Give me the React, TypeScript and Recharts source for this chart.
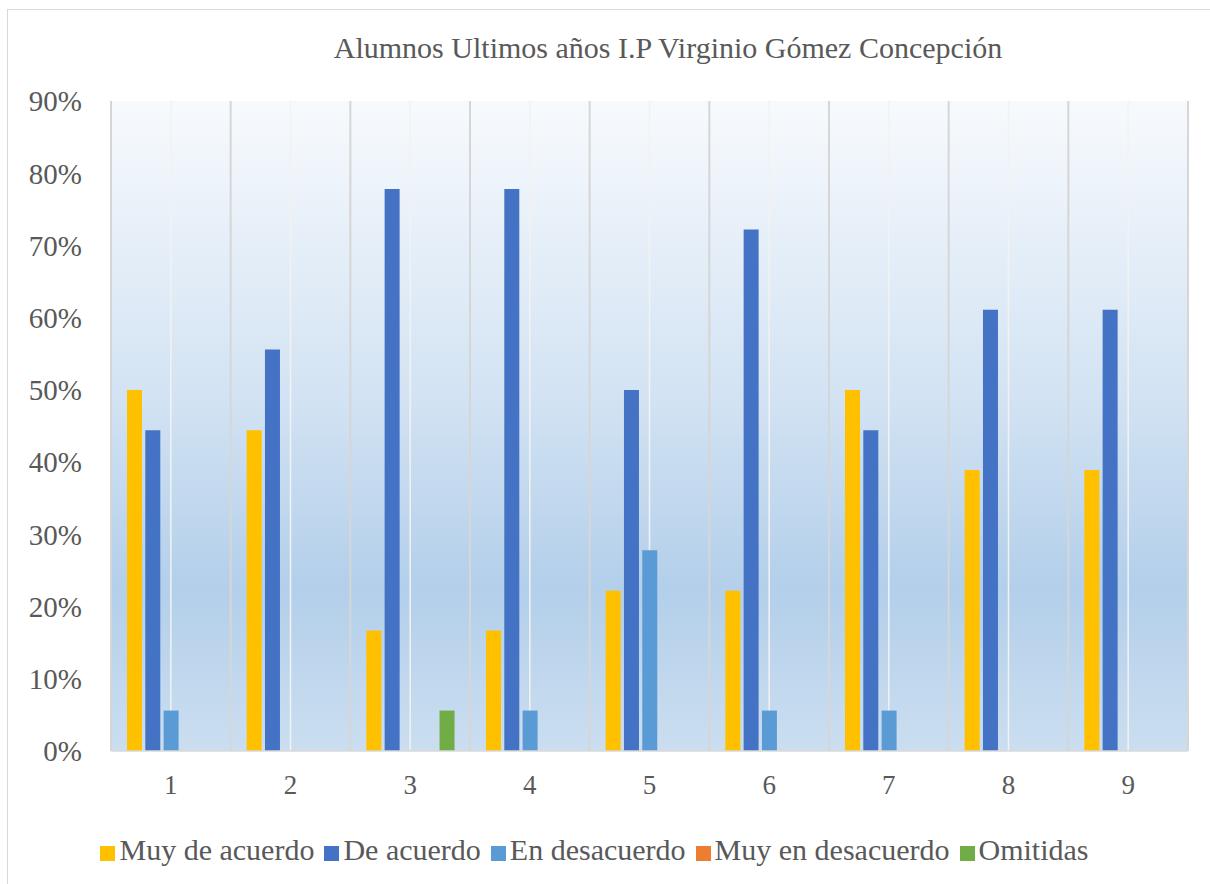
import { BarChart, Bar, XAxis, YAxis, CartesianGrid, Legend } from "recharts"

const categories = ["1", "2", "3", "4", "5", "6", "7", "8", "9"]
const muyDeAcuerdo = [50, 44.4, 16.7, 16.7, 22.2, 22.2, 50, 38.9, 38.9]
const deAcuerdo = [44.4, 55.6, 77.8, 77.8, 50, 72.2, 44.4, 61.1, 61.1]
const enDesacuerdo = [5.6, 0, 0, 5.6, 27.8, 5.6, 5.6, 0, 0]
const muyEnDesacuerdo = [0, 0, 0, 0, 0, 0, 0, 0, 0]
const omitidas = [0, 0, 5.6, 0, 0, 0, 0, 0, 0]
const yTicks = [0, 10, 20, 30, 40, 50, 60, 70, 80, 90]

const data = categories.map((c, i) => ({
    name: c,
    s1: muyDeAcuerdo[i],
    s2: deAcuerdo[i],
    s3: enDesacuerdo[i],
    s4: muyEnDesacuerdo[i],
    s5: omitidas[i],
}))

const font = "'Liberation Serif', 'Times New Roman', Times, 'DejaVu Serif', serif"
const textColor = "#595959"

// gray lines on the band edges of the category axis
const boundaryLines = ({ xAxis, offset }: any) => {
    const scale = xAxis?.scale
    const fn =
        typeof scale === "function" ? scale : scale && typeof scale.map === "function" ? (v: string) => scale.map(v) : null
    if (fn && scale && typeof scale.bandwidth === "function") {
        const bw = scale.bandwidth()
        const xs = categories.map((c) => fn(c) as number)
        if (xs.every((x) => typeof x === "number" && !isNaN(x))) {
            return xs.concat([xs[xs.length - 1] + bw])
        }
    }
    const step = offset.width / categories.length
    return categories.map((_, i) => offset.left + i * step).concat([offset.left + offset.width])
}

export default function App() {
    return (
        <div style={{ position: "absolute", left: 0, top: 0, width: 1210, height: 884, background: "#fff", fontFamily: font }}>
            <div style={{ position: "absolute", left: 7, top: 9, width: 1210, height: 884, borderLeft: "1.5px solid #d9d9d9", borderTop: "1.5px solid #d9d9d9" }} />
            <div style={{ position: "absolute", left: 0, width: 1336, top: 31, textAlign: "center", fontSize: 30, color: textColor }}>
                Alumnos Ultimos años I.P Virginio Gómez Concepción
            </div>
            <BarChart
                width={1210}
                height={884}
                data={data}
                margin={{ top: 101, right: 22, bottom: 43, left: 11 }}
                barSize={15}
                barGap={3.3}
                style={{ position: "absolute", left: 0, top: 0 }}
            >
                <defs>
                    <linearGradient id="bg" x1="0" y1="0" x2="0" y2="1">
                        <stop offset="0%" stopColor="#f7fafd" />
                        <stop offset="45%" stopColor="#d3e3f3" />
                        <stop offset="75%" stopColor="#b3cfea" />
                        <stop offset="100%" stopColor="#cbdef0" />
                    </linearGradient>
                </defs>
                <CartesianGrid horizontal={false} vertical={true} fill="url(#bg)" stroke="#f2f2f2" strokeWidth={1.5} />
                <CartesianGrid horizontal={false} vertical={true} verticalCoordinatesGenerator={boundaryLines} stroke="#d6d6d6" strokeWidth={2} />
                <XAxis
                    dataKey="name"
                    height={60}
                    tickLine={false}
                    tickSize={0}
                    tickMargin={24}
                    axisLine={{ stroke: "#d9d9d9", strokeWidth: 1.5 }}
                    tick={{ fill: textColor, fontSize: 27, fontFamily: font }}
                />
                <YAxis
                    width={100}
                    domain={[0, 90]}
                    ticks={yTicks}
                    tickFormatter={(v) => `${v}%`}
                    axisLine={false}
                    tickLine={false}
                    tickSize={0}
                    tickMargin={29}
                    tick={{ fill: textColor, fontSize: 29, fontFamily: font }}
                />
                <Bar dataKey="s1" name="Muy de acuerdo" fill="#ffc000" isAnimationActive={false} />
                <Bar dataKey="s2" name="De acuerdo" fill="#4472c4" isAnimationActive={false} />
                <Bar dataKey="s3" name="En desacuerdo" fill="#5b9bd5" isAnimationActive={false} />
                <Bar dataKey="s4" name="Muy en desacuerdo" fill="#ed7d31" isAnimationActive={false} />
                <Bar dataKey="s5" name="Omitidas" fill="#70ad47" isAnimationActive={false} />
                <Legend
                    verticalAlign="bottom"
                    iconType="square"
                    iconSize={15}
                    itemSorter="dataKey"
                    wrapperStyle={{ bottom: 19, fontFamily: font, fontSize: 30, lineHeight: "30px" }}
                    formatter={(value) => <span style={{ color: textColor }}>{value}</span>}
                />
            </BarChart>
        </div>
    )
}
